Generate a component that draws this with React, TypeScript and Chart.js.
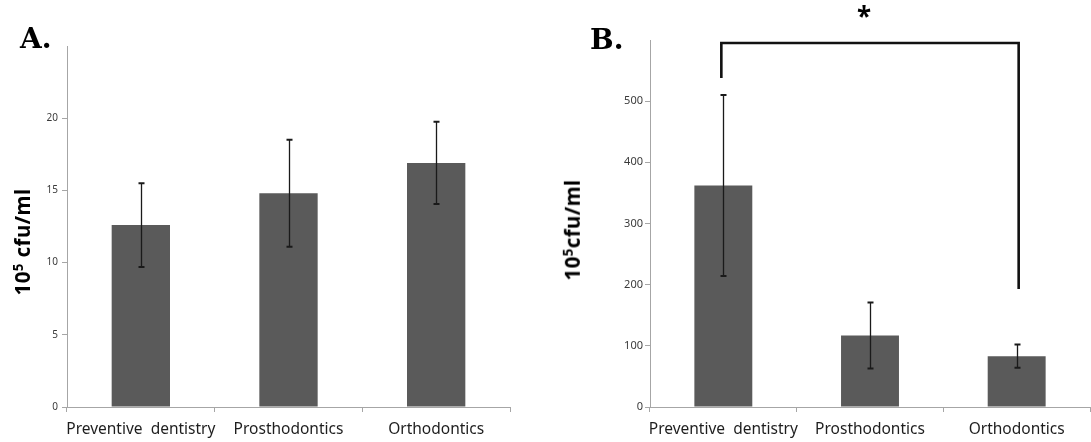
import React, { useEffect, useRef } from 'react';
import { Chart, registerables } from 'chart.js';

Chart.register(...registerables);
Chart.defaults.font.family = "'Noto Sans', 'DejaVu Sans', sans-serif";

// ---- Data ----
const categories = ['Preventive  dentistry', 'Prosthodontics', 'Orthodontics'];

const meansA = [12.6, 14.8, 16.9];
const errorsA = [2.9, 3.7, 2.85];
const maxA = 25;
const stepA = 5;

const meansB = [362, 117, 83];
const errorsB = [148, 54, 19];
const maxB = 600;
const stepB = 100;

// significance bracket for panel B (category indices, y values)
const bracketFrom = 0;
const bracketTo = 2;
const bracketTop = 595;
const bracketLeftEnd = 538;
const bracketRightEnd = 193;

const BAR_COLOR = '#5a5a5a';
const AXIS_COLOR = '#a6a6a6';

function makeErrorBars(errors: number[]) {
  return {
    id: 'errorBars',
    afterDatasetsDraw(chart: any) {
      const meta = chart.getDatasetMeta(0);
      const ys = chart.scales.y;
      const ctx = chart.ctx;
      const values = chart.data.datasets[0].data as number[];
      ctx.save();
      ctx.strokeStyle = '#1a1a1a';
      meta.data.forEach((bar: any, i: number) => {
        const x = Math.round(bar.x) + 0.5;
        const top = ys.getPixelForValue(values[i] + errors[i]);
        const bot = ys.getPixelForValue(values[i] - errors[i]);
        ctx.lineWidth = 1.3;
        ctx.beginPath();
        ctx.moveTo(x, top);
        ctx.lineTo(x, bot);
        ctx.stroke();
        ctx.lineWidth = 2;
        ctx.beginPath();
        ctx.moveTo(x - 3, top);
        ctx.lineTo(x + 3, top);
        ctx.moveTo(x - 3, bot);
        ctx.lineTo(x + 3, bot);
        ctx.stroke();
      });
      ctx.restore();
    },
  };
}

function makeBracket() {
  return {
    id: 'bracket',
    afterDraw(chart: any) {
      const meta = chart.getDatasetMeta(0);
      const ys = chart.scales.y;
      const ctx = chart.ctx;
      const x1 = meta.data[bracketFrom].x - 2;
      const x2 = meta.data[bracketTo].x + 2;
      const yT = ys.getPixelForValue(bracketTop);
      const yL = ys.getPixelForValue(bracketLeftEnd);
      const yR = ys.getPixelForValue(bracketRightEnd);
      ctx.save();
      ctx.strokeStyle = '#111';
      ctx.lineWidth = 2.6;
      ctx.lineJoin = 'miter';
      ctx.beginPath();
      ctx.moveTo(x1, yL);
      ctx.lineTo(x1, yT);
      ctx.lineTo(x2, yT);
      ctx.lineTo(x2, yR);
      ctx.stroke();
      ctx.restore();
    },
  };
}

function buildConfig(
  means: number[],
  errors: number[],
  max: number,
  step: number,
  yWidth: number,
  padTop: number,
  padRight: number,
  tickFont: number,
  tickPad: number,
  extraPlugins: any[]
): any {
  return {
    type: 'bar',
    data: {
      labels: categories,
      datasets: [
        {
          data: means,
          backgroundColor: BAR_COLOR,
          borderWidth: 0,
          barPercentage: 0.395,
          categoryPercentage: 1,
        },
      ],
    },
    options: {
      animation: false,
      responsive: true,
      maintainAspectRatio: false,
      layout: { padding: { top: padTop, right: padRight, left: 0, bottom: 0 } },
      plugins: { legend: { display: false }, tooltip: { enabled: false } },
      scales: {
        x: {
          grid: {
            drawOnChartArea: false,
            offset: true,
            tickLength: 5,
            color: AXIS_COLOR,
          },
          border: { color: AXIS_COLOR, width: 1 },
          ticks: {
            color: '#1e1e1e',
            font: { size: 15.5 },
            padding: 8,
            maxRotation: 0,
            autoSkip: false,
          },
          afterFit: (s: any) => {
            s.height = 35;
          },
        },
        y: {
          min: 0,
          max: max,
          grid: {
            drawOnChartArea: false,
            tickLength: 5,
            color: AXIS_COLOR,
            tickColor: (c: any) => (c.tick && c.tick.value === max ? 'rgba(0,0,0,0)' : AXIS_COLOR),
          },
          border: { color: AXIS_COLOR, width: 1 },
          ticks: {
            stepSize: step,
            color: '#3a3a3a',
            font: { size: tickFont },
            padding: tickPad,
            callback: (v: any) => (v === max ? '' : String(v)),
          },
          afterFit: (s: any) => {
            s.width = yWidth;
          },
        },
      },
    },
    plugins: [makeErrorBars(errors), ...extraPlugins],
  };
}

function Panel(props: { config: any; left: number; width: number }) {
  const ref = useRef<HTMLCanvasElement | null>(null);
  useEffect(() => {
    if (!ref.current) return;
    const chart = new Chart(ref.current, props.config);
    return () => chart.destroy();
  }, []);
  return (
    <div style={{ position: 'absolute', left: props.left, top: 0, width: props.width, height: 442 }}>
      <canvas ref={ref} />
    </div>
  );
}

const letterStyle: React.CSSProperties = {
  position: 'absolute',
  fontFamily: "'DejaVu Serif', 'Liberation Serif', serif",
  fontWeight: 'bold',
  fontSize: 28,
  lineHeight: '28px',
  color: '#000',
  whiteSpace: 'nowrap',
};

const titleStyle: React.CSSProperties = {
  position: 'absolute',
  fontFamily: "'Noto Sans', 'DejaVu Sans', sans-serif",
  fontWeight: 'bold',
  fontSize: 20.5,
  letterSpacing: '0.4px',
  lineHeight: '22px',
  color: '#000',
  whiteSpace: 'nowrap',
  transform: 'translate(-50%, -50%) rotate(-90deg)',
};

export default function App() {
  const configA = buildConfig(meansA, errorsA, maxA, stepA, 67, 46, 35, 10, 4, []);
  const configB = buildConfig(meansB, errorsB, maxB, stepB, 105, 40, 1, 11, 2, [makeBracket()]);
  return (
    <div
      style={{
        position: 'absolute',
        left: 0,
        top: 0,
        width: 1091,
        height: 442,
        background: '#fff',
        overflow: 'hidden',
      }}
    >
      <Panel config={configA} left={0} width={545} />
      <Panel config={configB} left={545} width={546} />
      <div style={{ ...letterStyle, left: 20, top: 25 }}>A.</div>
      <div style={{ ...letterStyle, left: 590, top: 26 }}>B.</div>
      <div style={{ ...titleStyle, left: 20, top: 242 }}>
        10<span style={{ fontSize: '0.65em', verticalAlign: '0.55em' }}>5</span> cfu/ml
      </div>
      <div style={{ ...titleStyle, left: 570, top: 230 }}>
        10<span style={{ fontSize: '0.65em', verticalAlign: '0.55em' }}>5</span>cfu/ml
      </div>
      <div
        style={{
          position: 'absolute',
          left: 864,
          top: 3,
          transform: 'translateX(-50%)',
          fontFamily: "'Noto Sans', 'DejaVu Sans', sans-serif",
          fontWeight: 'bold',
          fontSize: 26,
          lineHeight: '26px',
          color: '#000',
        }}
      >
        *
      </div>
    </div>
  );
}
